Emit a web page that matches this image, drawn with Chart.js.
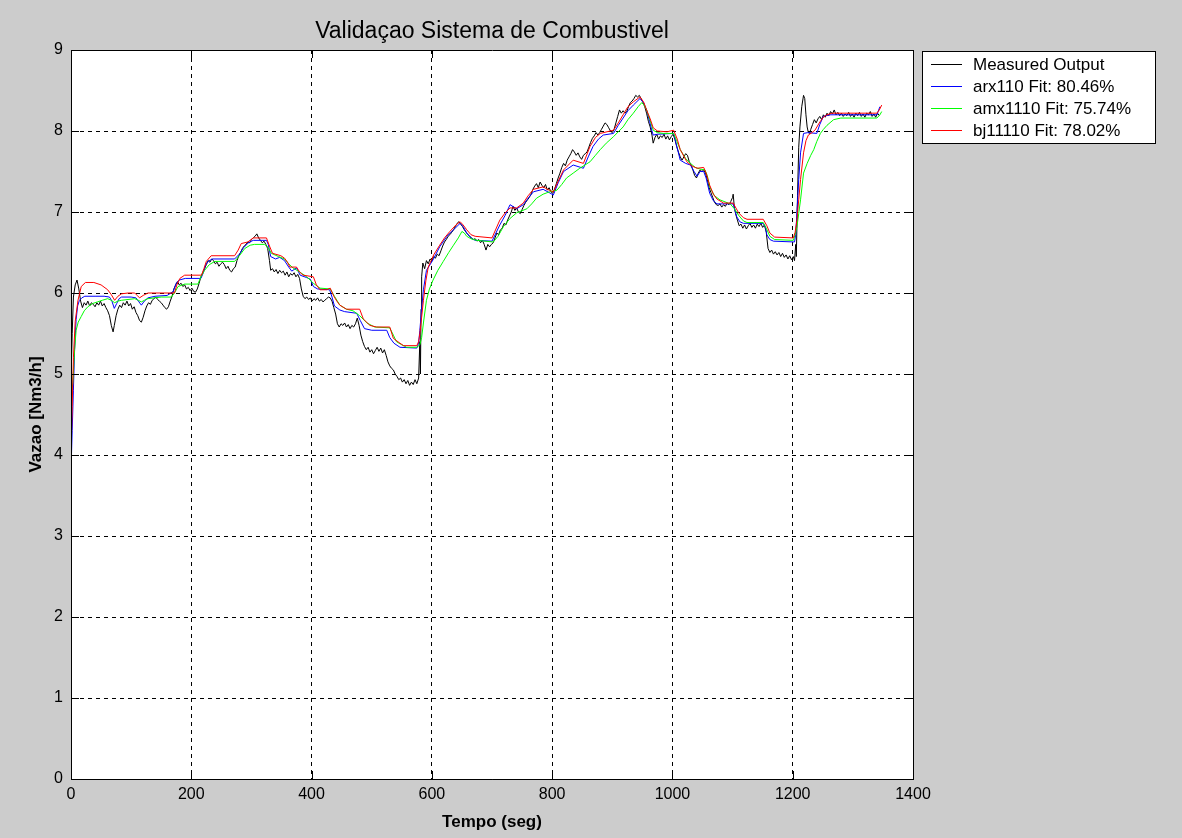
<!DOCTYPE html>
<html>
<head>
<meta charset="utf-8">
<title>Validaçao Sistema de Combustivel</title>
<script src="https://cdn.jsdelivr.net/npm/chart.js@4/dist/chart.umd.min.js"></script>
<style>
  html, body { margin: 0; padding: 0; background: #cccccc; }
  #wrap { width: 1182px; height: 838px; position: relative; }
</style>
</head>
<body>
<div id="wrap"><canvas id="chart" width="1182" height="838"></canvas></div>
<script>
// Axis ticks
const xTicks = [0, 200, 400, 600, 800, 1000, 1200, 1400];
const yTicks = [0, 1, 2, 3, 4, 5, 6, 7, 8, 9];

// Series labels
const seriesLabels = ['Measured Output', 'arx110 Fit: 80.46%', 'amx1110 Fit: 75.74%', 'bj11110 Fit: 78.02%'];

// Measured fuel flow, [time (s), flow (Nm3/h)]
const measured = [
  [0,4.9],[2,5.5],[4,5.95],[7,6.1],[10,6.16],[13,6.05],[16,5.9],[19,5.82],[22,5.88],[25,5.85],[28,5.9],[31,5.84],[34,5.88],[37,5.86],[40,5.83],
  [43,5.88],[46,5.85],[49,5.9],[52,5.84],[55,5.87],[58,5.82],[61,5.78],[64,5.72],[67,5.6],[70,5.52],[72,5.6],[75,5.72],[78,5.8],[81,5.85],
  [84,5.82],[87,5.88],[90,5.85],[93,5.9],[96,5.84],[99,5.87],[102,5.8],[105,5.83],[108,5.76],[111,5.72],[114,5.66],[117,5.64],[120,5.7],
  [123,5.78],[126,5.84],[129,5.88],[132,5.86],[135,5.91],[138,5.93],[141,5.95],[144,5.92],[147,5.9],[150,5.88],[153,5.85],[156,5.82],
  [159,5.8],[162,5.83],[165,5.9],[168,5.96],[171,6.05],[174,6.1],[177,6.14],[180,6.1],[183,6.12],[186,6.08],[189,6.1],[192,6.05],
  [195,6.07],[198,6.03],[201,6.06],[204,6.02],[207,6.01],[210,6.05],[213,6.12],[216,6.2],[219,6.25],[222,6.3],[225,6.35],[228,6.4],
  [231,6.38],[234,6.42],[237,6.4],[240,6.36],[243,6.38],[246,6.33],[249,6.36],[252,6.38],[255,6.35],[258,6.3],[261,6.33],[264,6.28],
  [267,6.26],[270,6.3],[273,6.32],[276,6.4],[279,6.46],[282,6.5],[285,6.55],[288,6.58],[291,6.6],[294,6.63],[297,6.62],[300,6.66],
  [303,6.68],[306,6.7],[309,6.73],[312,6.68],[315,6.65],[318,6.62],[321,6.64],[324,6.6],[327,6.55],[330,6.4],[332,6.28],[335,6.3],
  [338,6.26],[341,6.29],[344,6.24],[347,6.28],[350,6.25],[353,6.27],[356,6.22],[359,6.26],[362,6.2],[365,6.24],[368,6.22],[371,6.25],
  [374,6.2],[377,6.23],[380,6.18],[383,6.05],[386,5.96],[389,5.93],[392,5.95],[395,5.92],[398,5.94],[401,5.9],[404,5.93],[407,5.91],
  [410,5.94],[413,5.9],[416,5.92],[419,5.89],[422,5.91],[425,5.93],[428,5.95],[431,5.94],[434,5.9],[437,5.82],[440,5.74],[443,5.62],
  [446,5.58],[449,5.62],[452,5.6],[455,5.63],[458,5.58],[461,5.61],[464,5.56],[467,5.6],[470,5.58],[473,5.62],[476,5.69],[479,5.6],
  [482,5.48],[485,5.4],[488,5.34],[491,5.3],[494,5.33],[497,5.27],[500,5.3],[503,5.25],[506,5.29],[509,5.33],[512,5.28],[515,5.32],
  [518,5.26],[521,5.3],[524,5.23],[527,5.15],[530,5.1],[533,5.07],[536,5.05],[539,5.0],[542,4.97],[545,4.93],[548,4.95],[551,4.9],
  [554,4.93],[557,4.88],[560,4.92],[563,4.86],[566,4.9],[569,4.87],[572,4.93],[575,4.88],[578,4.95],[580,5.4],[581,5.0],[582,5.8],
  [583,6.2],[585,6.37],[588,6.3],[591,6.4],[594,6.36],[597,6.42],[600,6.4],[603,6.45],[606,6.43],[609,6.48],[612,6.46],[615,6.52],
  [618,6.58],[621,6.63],[624,6.66],[627,6.7],[630,6.72],[633,6.75],[636,6.78],[639,6.82],[642,6.86],[645,6.88],[648,6.85],[651,6.82],
  [654,6.78],[657,6.75],[660,6.72],[663,6.7],[666,6.68],[669,6.66],[672,6.67],[675,6.64],[678,6.66],[681,6.62],[684,6.65],[687,6.6],
  [690,6.53],[693,6.6],[696,6.57],[699,6.6],[702,6.62],[705,6.68],[708,6.74],[711,6.72],[714,6.78],[717,6.8],[720,6.86],[723,6.84],
  [726,6.9],[729,6.95],[732,7.0],[735,7.07],[738,7.02],[741,7.05],[744,7.0],[747,6.98],[750,7.03],[753,7.08],[756,7.12],[759,7.15],
  [762,7.18],[765,7.22],[768,7.28],[771,7.32],[774,7.35],[777,7.3],[780,7.37],[783,7.33],[786,7.3],[789,7.34],[792,7.27],[795,7.3],
  [798,7.25],[801,7.23],[804,7.28],[807,7.35],[810,7.42],[813,7.48],[816,7.55],[819,7.6],[822,7.57],[825,7.64],[828,7.68],[831,7.72],
  [834,7.77],[837,7.74],[840,7.7],[843,7.73],[846,7.68],[849,7.65],[852,7.7],[855,7.72],[858,7.74],[861,7.8],[864,7.86],[867,7.91],
  [870,7.94],[873,7.98],[876,7.95],[879,7.98],[882,8.02],[885,8.06],[888,8.1],[891,8.08],[894,8.04],[897,8.0],[900,7.98],[903,8.02],
  [906,8.1],[909,8.18],[912,8.26],[915,8.22],[918,8.25],[921,8.22],[924,8.24],[927,8.3],[930,8.35],[933,8.37],[936,8.4],[939,8.44],
  [942,8.42],[945,8.44],[948,8.4],[951,8.35],[954,8.3],[957,8.22],[960,8.12],[963,8.05],[966,7.95],[968,7.85],[971,7.92],[974,7.96],
  [977,7.9],[980,7.94],[983,7.92],[986,7.96],[989,7.9],[992,7.94],[995,7.89],[998,7.93],[1001,7.96],[1004,7.9],[1007,7.81],[1010,7.74],
  [1013,7.68],[1016,7.64],[1019,7.68],[1022,7.72],[1025,7.7],[1028,7.62],[1031,7.58],[1034,7.52],[1037,7.45],[1040,7.42],[1043,7.48],
  [1046,7.52],[1049,7.5],[1052,7.52],[1055,7.48],[1058,7.4],[1061,7.3],[1064,7.24],[1067,7.18],[1070,7.12],[1073,7.09],[1076,7.08],
  [1079,7.1],[1082,7.06],[1085,7.09],[1088,7.07],[1091,7.11],[1094,7.09],[1097,7.13],[1100,7.18],[1101,7.22],[1103,7.05],[1105,6.98],
  [1108,6.9],[1111,6.83],[1114,6.85],[1117,6.8],[1120,6.84],[1123,6.79],[1126,6.83],[1129,6.86],[1132,6.81],[1135,6.84],[1138,6.8],
  [1141,6.85],[1144,6.82],[1147,6.86],[1150,6.81],[1153,6.84],[1156,6.75],[1159,6.55],[1162,6.5],[1165,6.53],[1168,6.48],[1171,6.51],
  [1174,6.47],[1177,6.5],[1180,6.45],[1183,6.49],[1186,6.44],[1189,6.47],[1192,6.42],[1195,6.46],[1198,6.41],[1201,6.45],[1203,6.4],
  [1205,6.6],[1206,6.45],[1208,7.2],[1210,7.8],[1212,8.05],[1215,8.3],[1218,8.44],[1220,8.4],[1222,8.2],[1224,8.05],[1226,7.98],
  [1228,7.97],[1230,8.02],[1233,8.08],[1236,8.14],[1239,8.1],[1242,8.15],[1245,8.18],[1248,8.14],[1251,8.2],[1254,8.17],[1257,8.22],
  [1260,8.19],[1263,8.24],[1266,8.21],[1269,8.26],[1272,8.2],[1275,8.23],[1278,8.19],[1281,8.22],[1284,8.18],[1287,8.21],[1290,8.19],
  [1293,8.23],[1296,8.18],[1299,8.21],[1302,8.17],[1305,8.22],[1308,8.19],[1311,8.23],[1314,8.18],[1317,8.21],[1320,8.17],[1323,8.22],
  [1326,8.2],[1329,8.24],[1332,8.18],[1335,8.21],[1338,8.17],[1341,8.22],[1344,8.19]
];

// ARX model output
const arx110 = [
  [0,3.8],[2,4.3],[4,4.8],[6,5.3],[8.5,5.67],[11,5.84],[14,5.91],[18,5.94],[23,5.96],[40,5.96],[55,5.96],[64,5.95],[68,5.9],[72,5.81],
  [76,5.87],[80,5.93],[84,5.95],[100,5.95],[108,5.94],[112,5.9],[117,5.85],[122,5.9],[128,5.94],[140,5.96],[160,5.97],[170,6.02],
  [175,6.12],[180,6.16],[190,6.18],[216,6.18],[220,6.25],[224,6.35],[228,6.39],[235,6.42],[272,6.42],[280,6.48],[287,6.56],[295,6.62],
  [303,6.65],[325,6.65],[328,6.6],[332,6.45],[340,6.42],[347,6.44],[355,6.4],[362,6.32],[367,6.27],[375,6.31],[381,6.22],[392,6.19],
  [398,6.17],[403,6.08],[410,6.05],[430,6.04],[434,5.95],[438,5.84],[447,5.79],[455,5.77],[475,5.75],[481,5.66],[488,5.56],[500,5.54],
  [525,5.54],[530,5.45],[537,5.38],[547,5.33],[575,5.32],[578,5.38],[580,5.54],[583,5.8],[586,6.04],[591,6.28],[602,6.41],[613,6.57],
  [625,6.7],[636,6.78],[647,6.86],[652,6.82],[658,6.74],[665,6.68],[672,6.65],[700,6.64],[713,6.84],[722,6.96],[730,7.09],[741,7.04],
  [752,7.09],[760,7.17],[769,7.25],[785,7.28],[795,7.24],[802,7.21],[810,7.36],[819,7.5],[835,7.58],[852,7.54],[860,7.68],[868,7.81],
  [877,7.9],[885,7.95],[902,7.97],[910,8.07],[918,8.16],[926,8.25],[935,8.32],[946,8.4],[952,8.35],[957,8.26],[962,8.12],[966,8.0],
  [968,7.95],[975,7.96],[1002,7.97],[1006,7.85],[1013,7.64],[1022,7.6],[1030,7.58],[1036,7.5],[1041,7.44],[1046,7.5],[1052,7.5],
  [1056,7.42],[1062,7.23],[1068,7.14],[1074,7.1],[1101,7.1],[1107,6.94],[1112,6.88],[1118,6.86],[1151,6.86],[1155,6.8],[1157,6.72],
  [1162,6.66],[1168,6.64],[1203,6.63],[1205,6.72],[1207,6.99],[1210,7.4],[1213,7.73],[1218,7.97],[1225,7.98],[1240,7.97],[1245,8.08],
  [1251,8.18],[1262,8.2],[1340,8.2],[1345,8.3]
];

// AMX model output
const amx1110 = [
  [0,4.7],[3,4.89],[6,5.3],[8.5,5.54],[12,5.64],[17,5.71],[22,5.78],[28,5.83],[36,5.87],[44,5.89],[52,5.91],[61,5.93],[67,5.91],
  [72.6,5.88],[78,5.9],[84,5.91],[106,5.93],[112,5.91],[117,5.89],[122,5.91],[128,5.93],[150,5.95],[167,5.95],[172,6.0],[178,6.08],
  [189,6.11],[211,6.11],[216,6.2],[222,6.28],[230,6.35],[239,6.39],[272,6.39],[280,6.46],[289,6.55],[298,6.59],[305,6.6],[322,6.6],
  [328,6.56],[333,6.49],[345,6.45],[355,6.42],[362,6.36],[369,6.31],[380,6.26],[392,6.2],[403,6.12],[414,6.06],[431,6.05],[438,5.96],
  [447,5.85],[458,5.8],[469,5.78],[480,5.72],[492,5.63],[505,5.58],[530,5.57],[536,5.48],[541,5.4],[550,5.36],[558,5.33],[575,5.33],
  [580,5.36],[583,5.45],[586,5.63],[591,5.91],[596,6.05],[602,6.16],[610,6.28],[619,6.39],[628,6.5],[636,6.59],[644,6.68],[650,6.76],
  [654,6.74],[658,6.7],[665,6.67],[675,6.65],[702,6.63],[710,6.7],[719,6.82],[730,6.92],[741,6.99],[758,7.04],[766,7.1],[774,7.17],
  [785,7.22],[796,7.25],[808,7.27],[816,7.34],[824,7.42],[835,7.48],[846,7.54],[863,7.62],[872,7.7],[880,7.77],[890,7.85],[902,7.93],
  [910,7.99],[918,8.05],[926,8.14],[935,8.22],[943,8.3],[949,8.35],[953,8.32],[957,8.26],[963,8.13],[968,8.01],[975,7.98],[985,7.97],
  [1002,7.97],[1007,7.88],[1013,7.77],[1022,7.66],[1030,7.6],[1038,7.55],[1046,7.53],[1054,7.52],[1058,7.45],[1062,7.31],[1070,7.2],
  [1079,7.15],[1096,7.1],[1103,7.04],[1110,6.96],[1118,6.89],[1124,6.87],[1151,6.87],[1156,6.8],[1162,6.7],[1170,6.66],[1201,6.65],
  [1204,6.72],[1207,6.82],[1210,6.98],[1213,7.15],[1218,7.48],[1224,7.6],[1230,7.7],[1235,7.77],[1240,7.87],[1246,7.97],[1251,8.02],
  [1257,8.07],[1268,8.14],[1280,8.16],[1340,8.16],[1345,8.2],[1348,8.24]
];

// Box-Jenkins model output
const bj11110 = [
  [0,4.0],[2,4.6],[4,5.2],[7,5.65],[11.6,5.91],[17,6.08],[24,6.13],[38,6.13],[50,6.1],[61,6.04],[67,5.98],[72.6,5.91],[78,5.96],
  [84,5.99],[95,6.0],[106,6.0],[110,5.97],[114,5.94],[120,5.97],[128,6.0],[172,6.0],[176,6.1],[181,6.18],[189,6.22],[217,6.22],
  [221,6.3],[225,6.39],[233,6.46],[272,6.46],[278,6.53],[283,6.61],[294,6.63],[303,6.68],[325,6.68],[330,6.58],[335,6.49],[349,6.46],
  [355,6.43],[360,6.38],[364,6.32],[375,6.32],[380,6.26],[386,6.22],[403,6.2],[408,6.1],[414,6.04],[425,6.04],[431,6.06],[437,5.96],
  [442,5.9],[447,5.85],[458,5.8],[480,5.8],[486,5.68],[497,5.6],[508,5.58],[530,5.58],[536,5.44],[547,5.38],[553,5.35],[575,5.35],
  [578,5.4],[580,5.5],[583,5.7],[586,5.91],[590,6.15],[594,6.32],[603,6.47],[613,6.59],[621,6.68],[630,6.76],[640,6.84],[647,6.88],
  [652,6.84],[658,6.78],[665,6.72],[672,6.7],[700,6.68],[713,6.9],[722,6.99],[730,7.05],[741,7.05],[752,7.11],[760,7.2],[769,7.28],
  [785,7.31],[795,7.27],[802,7.25],[810,7.38],[819,7.52],[835,7.64],[852,7.6],[863,7.81],[872,7.92],[880,7.97],[902,8.01],[910,8.1],
  [918,8.2],[926,8.3],[935,8.36],[946,8.42],[952,8.36],[957,8.26],[963,8.15],[968,8.04],[975,8.0],[991,7.99],[1002,8.01],[1008,7.9],
  [1013,7.77],[1024,7.62],[1032,7.57],[1041,7.54],[1052,7.55],[1056,7.48],[1062,7.33],[1068,7.22],[1074,7.16],[1085,7.11],[1101,7.11],
  [1110,6.99],[1118,6.93],[1124,6.91],[1151,6.91],[1157,6.83],[1162,6.74],[1170,6.69],[1201,6.68],[1204,6.75],[1207,6.9],[1210,7.15],
  [1213,7.4],[1218,7.73],[1222,7.88],[1226,7.95],[1232,7.98],[1237,8.01],[1245,8.11],[1251,8.17],[1257,8.2],[1265,8.22],[1340,8.22],
  [1344,8.26],[1348,8.32]
];

const seriesData = [measured, arx110, amx1110, bj11110];
const seriesColors = ['#000000', '#0000ff', '#00ff00', '#ff0000'];
// red model drawn on top, measured underneath
const seriesOrder = [4, 3, 2, 1];

const FONT = '"Liberation Sans", Arial, Helvetica, sans-serif';
const PLOT = { left: 71, top: 50, right: 913, bottom: 779 };
const TICK_LEN = 8;

const datasets = seriesData.map((pts, i) => ({
  label: seriesLabels[i],
  data: pts.map(p => ({ x: p[0], y: p[1] })),
  borderColor: seriesColors[i],
  backgroundColor: seriesColors[i],
  borderWidth: 1,
  pointRadius: 0,
  tension: 0,
  fill: false,
  order: seriesOrder[i]
}));

// White axes background, box, inward ticks, title, axis labels, legend
const matlabFrame = {
  id: 'matlabFrame',
  beforeDraw(chart) {
    const { ctx, chartArea: a } = chart;
    ctx.save();
    ctx.fillStyle = '#ffffff';
    ctx.fillRect(a.left, a.top, a.right - a.left, a.bottom - a.top);
    ctx.restore();
  },
  afterDatasetsDraw(chart) {
    const { ctx, chartArea: a, scales } = chart;
    ctx.save();
    ctx.strokeStyle = '#000000';
    ctx.lineWidth = 1;
    ctx.beginPath();
    ctx.rect(a.left + 0.5, a.top + 0.5, a.right - a.left, a.bottom - a.top);
    ctx.stroke();
    ctx.beginPath();
    xTicks.forEach(v => {
      const px = Math.round(scales.x.getPixelForValue(v)) + 0.5;
      ctx.moveTo(px, a.bottom); ctx.lineTo(px, a.bottom - TICK_LEN);
      ctx.moveTo(px, a.top); ctx.lineTo(px, a.top + TICK_LEN);
    });
    yTicks.forEach(v => {
      const py = Math.round(scales.y.getPixelForValue(v)) + 0.5;
      ctx.moveTo(a.left, py); ctx.lineTo(a.left + TICK_LEN, py);
      ctx.moveTo(a.right, py); ctx.lineTo(a.right - TICK_LEN, py);
    });
    ctx.stroke();
    ctx.restore();
  },
  afterDraw(chart) {
    const { ctx, chartArea: a } = chart;
    const cx = (a.left + a.right) / 2;
    ctx.save();
    ctx.fillStyle = '#000000';
    // title
    ctx.font = '23px ' + FONT;
    ctx.textAlign = 'center';
    ctx.textBaseline = 'alphabetic';
    ctx.fillText('Validaçao Sistema de Combustivel', cx, 38);
    // axis labels
    ctx.font = 'bold 17px ' + FONT;
    ctx.textBaseline = 'middle';
    ctx.fillText('Tempo (seg)', cx, 822);
    ctx.save();
    ctx.translate(36, (a.top + a.bottom) / 2);
    ctx.rotate(-Math.PI / 2);
    ctx.fillText('Vazao [Nm3/h]', 0, 0);
    ctx.restore();
    // legend
    const lx = 922, ly = 51, lw = 233, lh = 92;
    ctx.fillStyle = '#ffffff';
    ctx.fillRect(lx, ly, lw, lh);
    ctx.strokeStyle = '#000000';
    ctx.lineWidth = 1;
    ctx.strokeRect(lx + 0.5, ly + 0.5, lw, lh);
    ctx.font = '17px ' + FONT;
    ctx.textAlign = 'left';
    ctx.textBaseline = 'middle';
    chart.data.datasets.forEach((ds, i) => {
      const y = Math.round(64 + i * 22) + 0.5;
      ctx.strokeStyle = ds.borderColor;
      ctx.beginPath();
      ctx.moveTo(931, y); ctx.lineTo(962, y);
      ctx.stroke();
      ctx.fillStyle = '#000000';
      ctx.fillText(ds.label, 973, y + 1);
    });
    ctx.restore();
  }
};

new Chart(document.getElementById('chart'), {
  type: 'line',
  data: { datasets },
  options: {
    responsive: false,
    animation: false,
    layout: { padding: { top: PLOT.top, right: 1182 - PLOT.right, left: 0, bottom: 0 } },
    plugins: { legend: { display: false }, title: { display: false }, tooltip: { enabled: false } },
    scales: {
      x: {
        type: 'linear',
        min: 0, max: 1400,
        afterFit(scale) { scale.height = 838 - PLOT.bottom; },
        afterBuildTicks(scale) { scale.ticks = xTicks.map(v => ({ value: v })); },
        ticks: {
          color: '#000', font: { family: FONT, size: 16 }, padding: 6, maxRotation: 0, autoSkip: false,
          callback: v => String(v)
        },
        grid: { color: '#000', lineWidth: 1, drawTicks: false },
        border: { display: true, color: '#000', width: 1, dash: [4, 4] }
      },
      y: {
        type: 'linear',
        min: 0, max: 9,
        afterFit(scale) { scale.width = PLOT.left; },
        afterBuildTicks(scale) { scale.ticks = yTicks.map(v => ({ value: v })); },
        ticks: { color: '#000', font: { family: FONT, size: 16 }, padding: 8, autoSkip: false, callback: v => String(v) },
        grid: { color: '#000', lineWidth: 1, drawTicks: false },
        border: { display: true, color: '#000', width: 1, dash: [4, 4] }
      }
    }
  },
  plugins: [matlabFrame]
});
</script>
</body>
</html>
